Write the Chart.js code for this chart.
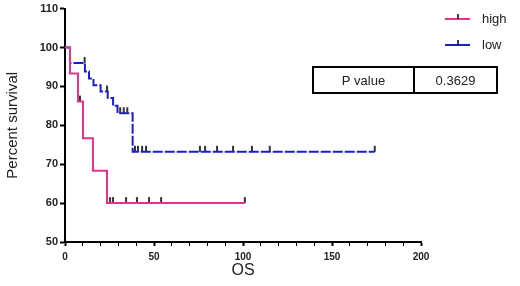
<!DOCTYPE html>
<html>
<head>
<meta charset="utf-8">
<script src="https://cdn.jsdelivr.net/npm/chart.js@4/dist/chart.umd.min.js"></script>
<style>
    html, body { margin: 0; padding: 0; background: #fff; }
    #wrap { width: 520px; height: 286px; position: relative; }
</style>
</head>
<body>
<div id="wrap"><canvas id="km"></canvas></div>
<script>
// 生存曲线数据 (Kaplan-Meier)
const highTimes = [0, 2.8, 7.3, 10.1, 15.7, 23.6, 101];
const highSurvival = [100, 93.3, 86.1, 76.7, 68.3, 60, 60];
const lowTimes = [0, 2.8, 11.2, 13.5, 16, 20, 24, 27, 29.5, 38, 174];
const lowSurvival = [100, 96, 93.8, 92, 90.3, 88.7, 87, 85, 83.1, 73.2, 73.2];

// 删失时间
const highCensored = [8.4, 15.7, 25.3, 27, 34.3, 40.4, 47.2, 54, 101];
const lowCensored = [11, 23.6, 31, 33, 35, 39.3, 41, 43.3, 45.5, 75.8, 78.7, 85.4, 94.4, 105, 115, 174];

const seriesNames = ['high', 'low'];
const pValueLabel = 'P value';
const pValue = '0.3629';
const xTicks = [0, 50, 100, 150, 200];

const pink = '#e5338d';
const blue = '#1c1ccf';
const fontFamily = '"Liberation Sans", Arial, sans-serif';

function toPoints(times, values) {
    return times.map((t, i) => ({ x: t, y: values[i] }));
}

// 某时间点的生存率
function survivalAt(times, values, t) {
    let v = values[0];
    for (let i = 0; i < times.length; i++) {
        if (times[i] <= t) v = values[i];
    }
    return v;
}

function censorPoints(cens, times, values) {
    return cens.map(t => ({ x: t, y: survivalAt(times, values, t) }));
}

// 删失标记: 向上的小竖线
function makeTick() {
    const c = document.createElement('canvas');
    c.width = 4;
    c.height = 14;
    const g = c.getContext('2d');
    g.strokeStyle = '#000';
    g.lineWidth = 1.6;
    g.beginPath();
    g.moveTo(2, 1);
    g.lineTo(2, 7);
    g.stroke();
    return c;
}

// 图例和 P 值表
const extrasPlugin = {
    id: 'extras',
    afterDraw(chart) {
        const ctx = chart.ctx;
        const area = chart.chartArea;
        const colors = [pink, blue];
        ctx.save();
        ctx.font = '13px ' + fontFamily;
        ctx.textBaseline = 'middle';
        seriesNames.forEach((name, i) => {
            const y = 19 + i * 26;
            const x0 = area.right + 24;
            ctx.strokeStyle = colors[i];
            ctx.lineWidth = 2;
            ctx.beginPath();
            ctx.moveTo(x0, y);
            ctx.lineTo(x0 + 25, y);
            ctx.stroke();
            ctx.strokeStyle = '#000';
            ctx.lineWidth = 1.5;
            ctx.beginPath();
            ctx.moveTo(x0 + 13, y);
            ctx.lineTo(x0 + 13, y - 5);
            ctx.stroke();
            ctx.fillStyle = '#222';
            ctx.textAlign = 'left';
            ctx.fillText(name, x0 + 37, y);
        });

        // P 值表格
        const bx = 313, by = 67, bw = 184, bh = 26, split = 101;
        ctx.strokeStyle = '#000';
        ctx.lineWidth = 2;
        ctx.strokeRect(bx, by, bw, bh);
        ctx.beginPath();
        ctx.moveTo(bx + split, by);
        ctx.lineTo(bx + split, by + bh);
        ctx.stroke();
        ctx.fillStyle = '#222';
        ctx.textAlign = 'center';
        ctx.fillText(pValueLabel, bx + split / 2, by + bh / 2 + 1);
        ctx.fillText(pValue, bx + split + (bw - split) / 2, by + bh / 2 + 1);
        ctx.restore();
    }
};

document.addEventListener('DOMContentLoaded', () => {
    const tickImg = makeTick();
    const ctx = document.getElementById('km').getContext('2d');
    new Chart(ctx, {
        type: 'line',
        data: {
            datasets: [{
                label: seriesNames[0],
                data: toPoints(highTimes, highSurvival),
                borderColor: pink,
                borderWidth: 2,
                stepped: true,
                pointRadius: 0,
                fill: false
            }, {
                label: seriesNames[1],
                data: toPoints(lowTimes, lowSurvival),
                borderColor: blue,
                borderWidth: 2,
                borderDash: [10, 2],
                stepped: true,
                pointRadius: 0,
                fill: false
            }, {
                type: 'scatter',
                data: censorPoints(highCensored, highTimes, highSurvival),
                pointStyle: tickImg,
                pointRadius: 4
            }, {
                type: 'scatter',
                data: censorPoints(lowCensored, lowTimes, lowSurvival),
                pointStyle: tickImg,
                pointRadius: 4
            }]
        },
        options: {
            responsive: true,
            maintainAspectRatio: false,
            animation: false,
            layout: {
                padding: { top: 6, right: 99, left: 0, bottom: 0 }
            },
            plugins: {
                legend: { display: false },
                tooltip: { enabled: false }
            },
            scales: {
                x: {
                    type: 'linear',
                    min: 0,
                    max: 200,
                    afterFit: (scale) => { scale.height = 44; },
                    afterBuildTicks: (scale) => {
                        const t = [];
                        for (let v = 0; v <= 200; v += 10) t.push({ value: v });
                        scale.ticks = t;
                    },
                    ticks: {
                        autoSkip: false,
                        maxRotation: 0,
                        padding: 5,
                        color: '#222',
                        font: { size: 10, family: fontFamily, weight: 'bold' },
                        callback: (v) => xTicks.includes(v) ? String(v) : ''
                    },
                    grid: {
                        drawOnChartArea: false,
                        tickLength: 4,
                        tickColor: '#000',
                        tickWidth: (c) => (c.tick && xTicks.includes(c.tick.value)) ? 2 : 1
                    },
                    border: { color: '#000', width: 2 },
                    title: {
                        display: true,
                        text: 'OS',
                        color: '#222',
                        padding: { top: 0, bottom: 6 },
                        font: { size: 16, family: fontFamily }
                    }
                },
                y: {
                    min: 50,
                    max: 110,
                    afterFit: (scale) => { scale.width = 65; },
                    ticks: {
                        stepSize: 10,
                        padding: 2,
                        color: '#222',
                        font: { size: 11, family: fontFamily, weight: 'bold' }
                    },
                    grid: {
                        drawOnChartArea: false,
                        tickLength: 5,
                        tickColor: '#000',
                        tickWidth: 2
                    },
                    border: { color: '#000', width: 2 },
                    title: {
                        display: true,
                        text: 'Percent survival',
                        color: '#222',
                        padding: { top: 4, bottom: 0 },
                        font: { size: 15, family: fontFamily }
                    }
                }
            }
        },
        plugins: [extrasPlugin]
    });
});
</script>
</body>
</html>
